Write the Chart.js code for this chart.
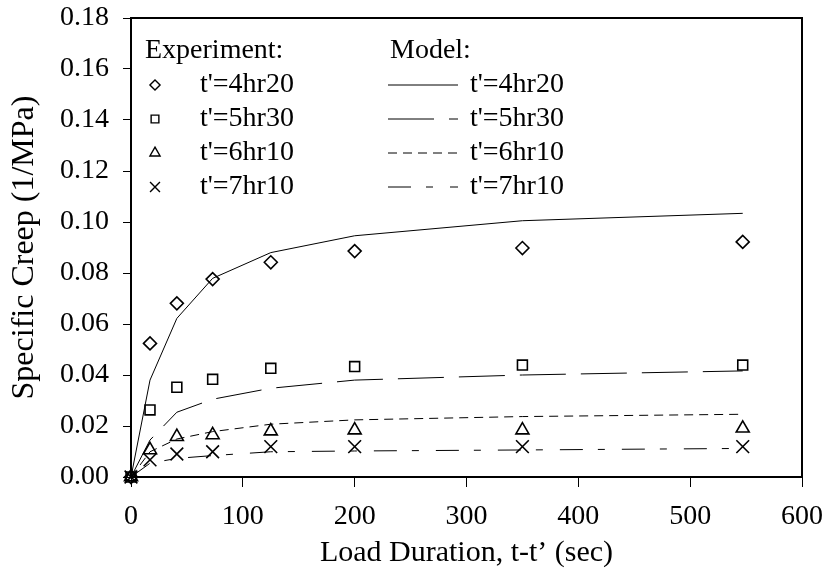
<!DOCTYPE html>
<html>
<head>
<meta charset="utf-8">
<script src="https://cdn.jsdelivr.net/npm/chart.js@4/dist/chart.umd.min.js"></script>
<style>
  html, body { margin: 0; padding: 0; background: #fff; }
  #wrap { width: 826px; height: 585px; position: relative; }
</style>
</head>
<body>
<div id="wrap"><canvas id="creep"></canvas></div>
<script>
// Load duration t-t' (sec) at which creep was measured / modelled
const loadDuration = [0, 17, 41, 73, 125, 200, 350, 547];

// Measured specific creep (1/MPa)
const exp4hr20 = [0, 0.0524, 0.0681, 0.0776, 0.0842, 0.0886, 0.0898, 0.0922];
const exp5hr30 = [0, 0.0263, 0.0352, 0.0383, 0.0426, 0.0433, 0.0439, 0.0439];
const exp6hr10 = [0, 0.0106, 0.0158, 0.0165, 0.0180, 0.0184, 0.0184, 0.0191];
const exp7hr10 = [0, 0.0067, 0.0090, 0.0099, 0.0119, 0.0119, 0.0119, 0.0119];

// Model predictions (1/MPa)
const mod4hr20 = [0, 0.0380, 0.0622, 0.0779, 0.0880, 0.0946, 0.1005, 0.1034];
const mod5hr30 = [0, 0.0145, 0.0254, 0.0305, 0.0348, 0.0380, 0.0400, 0.0416];
const mod6hr10 = [0, 0.0099, 0.0149, 0.0178, 0.0207, 0.0224, 0.0237, 0.0246];
const mod7hr10 = [0, 0.0054, 0.0073, 0.0084, 0.0099, 0.0102, 0.0106, 0.0112];

// Age at loading labels
const ageLabels = ["t'=4hr20", "t'=5hr30", "t'=6hr10", "t'=7hr10"];

// Axis ticks
const yTicks = { min: 0, max: 0.18, step: 0.02 };
const xTicks = { min: 0, max: 600, step: 100 };

const FONT = '"Liberation Serif", "Times New Roman", Times, serif';
const INK = '#000';
const CLEAR = 'rgba(0,0,0,0)';

const pairs = (ys) => loadDuration.map((x, i) => ({ x, y: ys[i] }));

const expStyles = [
  { pointStyle: 'rectRot', pointRadius: 6.5 },
  { pointStyle: 'rect', pointRadius: 7 },
  { pointStyle: 'triangle', pointRadius: 7.5 },
  { pointStyle: 'crossRot', pointRadius: 9 }
];
const modelDashes = [[], [46, 15], [9, 6], [23, 15, 7, 17]];

const expSeries = [exp4hr20, exp5hr30, exp6hr10, exp7hr10];
const modSeries = [mod4hr20, mod5hr30, mod6hr10, mod7hr10];

const datasets = [];
modSeries.forEach((ys, i) => {
  datasets.push({
    label: 'Model ' + ageLabels[i],
    group: 'model',
    data: pairs(ys),
    showLine: true,
    borderColor: INK,
    borderWidth: 1,
    borderDash: modelDashes[i],
    pointRadius: 0,
    fill: false,
    tension: 0
  });
});
expSeries.forEach((ys, i) => {
  datasets.push({
    label: 'Experiment ' + ageLabels[i],
    group: 'exp',
    data: pairs(ys),
    showLine: false,
    clip: false,
    borderColor: INK,
    backgroundColor: CLEAR,
    pointBorderColor: INK,
    pointBackgroundColor: CLEAR,
    pointBorderWidth: 1.6,
    pointStyle: expStyles[i].pointStyle,
    pointRadius: expStyles[i].pointRadius
  });
});

// Frame on top/right plus the two-column key inside the plot
const frameAndKey = {
  id: 'frameAndKey',
  afterDraw(chart) {
    const { ctx, chartArea: a } = chart;
    ctx.save();
    ctx.strokeStyle = INK;
    ctx.lineWidth = 2;
    ctx.beginPath();
    ctx.moveTo(a.left, a.top);
    ctx.lineTo(a.right, a.top);
    ctx.lineTo(a.right, a.bottom);
    ctx.stroke();

    ctx.font = '28px ' + FONT;
    ctx.textBaseline = 'middle';
    ctx.textAlign = 'left';
    ctx.fillStyle = INK;
    const headY = a.top + 33;
    ctx.fillText('Experiment:', a.left + 14, headY);
    ctx.fillText('Model:', a.left + 259, headY);

    const exps = chart.data.datasets.filter(d => d.group === 'exp');
    const mods = chart.data.datasets.filter(d => d.group === 'model');
    for (let i = 0; i < 4; i++) {
      const y = a.top + 67 + 34 * i;
      const e = exps[i];
      ctx.strokeStyle = INK;
      ctx.fillStyle = CLEAR;
      ctx.lineWidth = 1.4;
      ctx.setLineDash([]);
      Chart.helpers.drawPoint(ctx, { pointStyle: e.pointStyle, radius: e.pointRadius * 0.78, borderWidth: 1.4 }, a.left + 24, y);
      ctx.fillStyle = INK;
      ctx.fillText(ageLabels[i], a.left + 69, y);

      const m = mods[i];
      ctx.lineWidth = 1;
      ctx.setLineDash(m.borderDash || []);
      ctx.beginPath();
      ctx.moveTo(a.left + 257, y);
      ctx.lineTo(a.left + 327, y);
      ctx.stroke();
      ctx.setLineDash([]);
      ctx.fillText(ageLabels[i], a.left + 339, y);
    }
    ctx.restore();
  }
};

new Chart(document.getElementById('creep'), {
  type: 'scatter',
  data: { datasets },
  options: {
    responsive: true,
    maintainAspectRatio: false,
    animation: false,
    layout: { autoPadding: false, padding: { top: 18, right: 24, bottom: 0, left: 0 } },
    plugins: { legend: { display: false }, tooltip: { enabled: false } },
    scales: {
      x: {
        type: 'linear',
        min: xTicks.min, max: xTicks.max,
        afterFit(scale) { scale.height = 108; scale.paddingLeft = 0; scale.paddingRight = 0; },
        ticks: { stepSize: xTicks.step, color: INK, padding: 13, font: { family: FONT, size: 28 } },
        grid: { display: true, drawOnChartArea: false, drawTicks: true, tickLength: 10, color: INK, lineWidth: 1 },
        border: { display: true, color: INK, width: 2 },
        title: { display: true, text: 'Load Duration, t-t’ (sec)', color: INK, font: { family: FONT, size: 30 }, padding: { top: 0, bottom: 14 } }
      },
      y: {
        type: 'linear',
        min: yTicks.min, max: yTicks.max,
        afterFit(scale) { scale.width = 131; scale.paddingTop = 0; scale.paddingBottom = 0; },
        ticks: { stepSize: yTicks.step, color: INK, padding: 14, font: { family: FONT, size: 28 }, callback: v => v.toFixed(2) },
        grid: { display: true, drawOnChartArea: false, drawTicks: true, tickLength: 8, color: INK, lineWidth: 1 },
        border: { display: true, color: INK, width: 2 },
        title: { display: true, text: 'Specific Creep (1/MPa)', color: INK, font: { family: FONT, size: 32 }, padding: { top: 5, bottom: 0 } }
      }
    }
  },
  plugins: [frameAndKey]
});
</script>
</body>
</html>
